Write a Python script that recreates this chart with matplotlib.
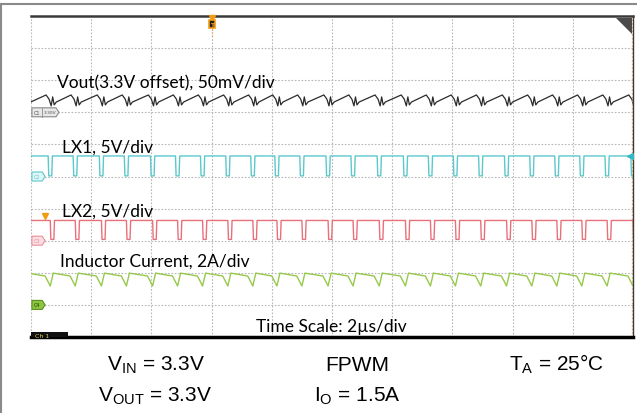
import numpy as np
import matplotlib
matplotlib.use('Agg')
import matplotlib.pyplot as plt
from matplotlib.lines import Line2D
from matplotlib.patches import Polygon, Rectangle

# .. switching instants (start of LX1 low pulse), in us
lx1_dips = [-0.28, 0.57, 1.40, 2.27, 3.10, 3.97, 4.80, 5.63, 6.47, 7.30, 8.10,
            8.93, 9.80, 10.63, 11.50, 12.37, 13.20, 14.03, 14.87, 15.73,
            16.57, 17.40, 18.23, 19.07, 19.93]
lx2_delay = 0.07          # LX2 pulse lags LX1 by ~2 px
dip_width = 0.12

# .. levels in divisions (0 = bottom of screen, 10 = top)
lx1_high, lx1_low = 5.64, 5.02
lx2_high, lx2_low = 3.63, 3.04

# .. one switching cycle of Vout and inductor current (dt in us, level in div)
vout_dt = [-0.07, 0.03, 0.10, 0.15, 0.20, 0.27]
vout_lv = [7.54, 7.41, 7.20, 7.48, 7.23, 7.32]
il_dt = [-0.10, 0.07, 0.17]
il_lv = [1.90, 1.59, 1.99]

labels = ['Vout(3.3V offset), 50mV/div', 'LX1, 5V/div', 'LX2, 5V/div',
          'Inductor Current, 2A/div']
label_x = [0.87, 1.03, 1.03, 0.97]
label_y = [7.79, 5.79, 3.77, 2.21]


def pulse_train(dips, high, low, shift=0.0):
    xs, ys = [0.0], [high]
    for t in dips:
        t = t + shift
        xs += [t, t + 0.02, t + dip_width, t + dip_width + 0.02]
        ys += [high, low, low, high]
    xs.append(20.0)
    ys.append(high)
    return xs, ys


def tile(dips, dts, lvs):
    xs, ys = [], []
    for t in dips:
        for d, v in zip(dts, lvs):
            xs.append(t + d)
            ys.append(v)
    return xs, ys


W, H = 637, 414
fig = plt.figure(figsize=(6.37, 4.14), dpi=100)
fig.patch.set_facecolor('white')

# .. outer frame (only left and top edges are in view)
fig.add_artist(Line2D([1.5 / W, 1.5 / W], [0, 1 - 5 / H], transform=fig.transFigure,
                      color='#8a8a8a', lw=1.5))
fig.add_artist(Line2D([1.5 / W, 1], [1 - 5 / H, 1 - 5 / H], transform=fig.transFigure,
                      color='#8a8a8a', lw=1.5))

ax = fig.add_axes([31 / W, 1 - 338 / H, 602 / W, 321 / H])
ax.set_xlim(0, 20)
ax.set_ylim(0, 10)
ax.set_xticks(np.arange(0, 21, 2))
ax.set_yticks(np.arange(0, 11, 1))
ax.tick_params(length=0, labelbottom=False, labelleft=False)
ax.grid(True, color='#b8b8b8', ls=(0, (1.5, 1.5)), lw=0.8)
ax.set_axisbelow(True)
ax.spines['left'].set_visible(False)
ax.spines['top'].set_color('#3a3a3a')
ax.spines['top'].set_linewidth(1.8)
ax.spines['right'].set_color('#3a3a3a')
ax.spines['right'].set_linewidth(1.0)
ax.spines['bottom'].set_color('black')
ax.spines['bottom'].set_linewidth(2.5)

# .. traces
x, y = tile(lx1_dips, vout_dt, vout_lv)
ax.plot(x, y, color='#2b2b2b', lw=0.9)
x, y = pulse_train(lx1_dips, lx1_high, lx1_low)
ax.plot(x, y, color='#5cc8cc', lw=1.0)
x, y = pulse_train(lx1_dips, lx2_high, lx2_low, shift=lx2_delay)
ax.plot(x, y, color='#e8707a', lw=1.0)
x, y = tile(lx1_dips, il_dt, il_lv)
ax.plot(x, y, color='#96c94a', lw=1.0)

# .. trace labels
for s, lx, ly in zip(labels, label_x, label_y):
    ax.text(lx, ly, s, fontsize=12.5, family='Lato', va='baseline', ha='left')
ax.text(7.47, 0.19, 'Time Scale: 2\u00b5s/div', fontsize=12.5, family='Lato',
        va='baseline', ha='left')

# .. channel markers on the left edge
def chan_tag(y0, w, face, edge, txt, tcol):
    h = 0.14
    pts = [(0.03, y0 - h), (w - 0.1, y0 - h), (w, y0), (w - 0.1, y0 + h), (0.03, y0 + h)]
    ax.add_patch(Polygon(pts, closed=True, facecolor=face, edgecolor=edge, lw=0.8,
                         zorder=5, clip_on=False))
    ax.text(0.2, y0, txt, fontsize=3.5, color=tcol, ha='center', va='center', zorder=6)


chan_tag(7.0, 0.93, '#e8e8e8', '#8a8a8a', 'C1', '#555555')
ax.plot([0.38, 0.38], [6.86, 7.14], color='#8a8a8a', lw=0.6, zorder=6)
ax.text(0.62, 7.0, '3.30V', fontsize=3.2, color='#555555', ha='center', va='center', zorder=6)
chan_tag(5.0, 0.47, '#dff6f7', '#5cc8cc', 'C2', '#5cc8cc')
chan_tag(3.0, 0.47, '#fcdde1', '#e8909a', 'C3', '#e8909a')
chan_tag(1.0, 0.47, '#8cc63f', '#5a8f1f', 'C4', '#1a3a05')

# .. Ch 1 tab at the bottom
ax.add_patch(Rectangle((0, 0), 1.23, 0.17, facecolor='#111111', edgecolor='none', zorder=5))
ax.text(0.12, 0.06, 'Ch 1', fontsize=4.5, color='#e0d040', va='center', zorder=6)

# .. trigger position / level markers
ax.plot([6.0], [9.93], marker='v', ms=5, color='#f39c12', zorder=6, clip_on=False)
ax.plot([6.0, 6.0], [9.6, 9.35], color='#f39c12', lw=0.8, ls=':', zorder=6)
ax.add_patch(Rectangle((5.9, 9.63), 0.2, 0.24, facecolor='#222222', edgecolor='#f39c12',
                       lw=1.2, zorder=7))
ax.text(6.0, 9.75, 'T', fontsize=4.5, color='#f39c12', ha='center', va='center',
        fontweight='bold', zorder=8)
ax.plot([0.47], [3.78], marker='v', ms=5, color='#f39c12', zorder=6)
ax.plot([19.9], [lx1_high], marker='<', ms=5, color='#35b8c0', zorder=6)
ax.axvline(19.96, color='#f5b060', ls=':', lw=1.0)
ax.add_patch(Polygon([(19.45, 9.95), (19.98, 9.95), (19.98, 9.45)], closed=True,
                     facecolor='#4a4a4a', edgecolor='none', zorder=6))

# .. test conditions below the screen
cond = [('$\\mathregular{V_{IN}}$ = 3.3V', 107, 371),
        ('FPWM', 325, 371),
        ('$\\mathregular{T_A}$ = 25\u00b0C', 509, 371),
        ('$\\mathregular{V_{OUT}}$ = 3.3V', 98, 402),
        ('$\\mathregular{I_O}$ = 1.5A', 314, 402)]
for s, px, py in cond:
    fig.text(px / W, 1 - py / H, s, fontsize=15, family='Liberation Sans',
             ha='left', va='baseline')

fig.savefig('out.png', dpi=100)
